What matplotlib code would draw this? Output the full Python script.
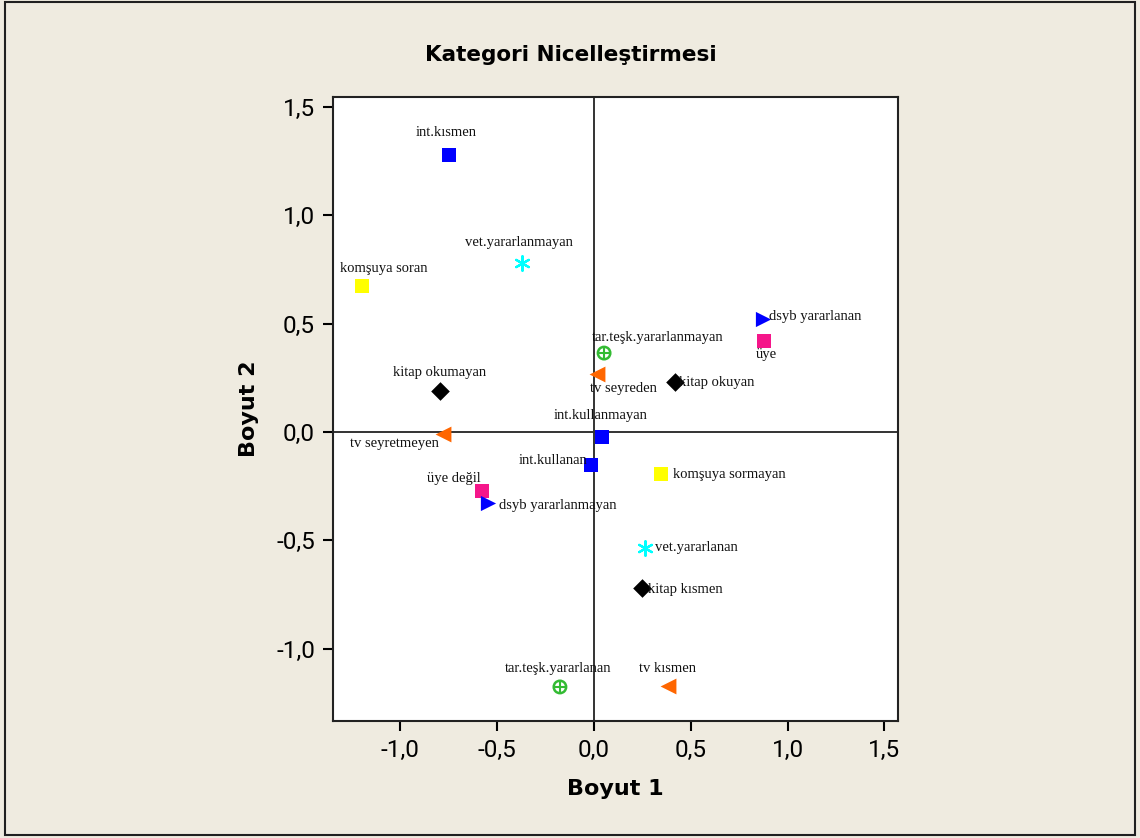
import matplotlib
matplotlib.use('Agg')
from matplotlib import pyplot as plt
from matplotlib.ticker import FuncFormatter

# category quantifications, one group per variable
int_labels = ['int.kısmen', 'int.kullanmayan', 'int.kullanan']
int_x = [-0.749, 0.041, -0.015]
int_y = [1.278, -0.023, -0.152]

vet_labels = ['vet.yararlanmayan', 'vet.yararlanan']
vet_x = [-0.372, 0.263]
vet_y = [0.780, -0.535]

kom_labels = ['komşuya soran', 'komşuya sormayan']
kom_x = [-1.198, 0.346]
kom_y = [0.673, -0.194]

dsyb_labels = ['dsyb yararlanan', 'dsyb yararlanmayan']
dsyb_x = [0.873, -0.548]
dsyb_y = [0.521, -0.327]

uye_labels = ['üye', 'üye değil']
uye_x = [0.878, -0.579]
uye_y = [0.420, -0.272]

tar_labels = ['tar.teşk.yararlanmayan', 'tar.teşk.yararlanan']
tar_x = [0.052, -0.176]
tar_y = [0.364, -1.176]

tv_labels = ['tv seyreden', 'tv seyretmeyen', 'tv kısmen']
tv_x = [0.015, -0.780, 0.382]
tv_y = [0.268, -0.009, -1.172]

kitap_labels = ['kitap okuyan', 'kitap okumayan', 'kitap kısmen']
kitap_x = [0.418, -0.795, 0.248]
kitap_y = [0.231, 0.189, -0.720]

#label placement (offset in pixels, horizontal alignment)
label_pos = {
    'int.kısmen': (-3, 22, 'center'),
    'int.kullanmayan': (-1, 21, 'center'),
    'int.kullanan': (-4, 4, 'right'),
    'vet.yararlanmayan': (-3, 20, 'center'),
    'vet.yararlanan': (10, 0, 'left'),
    'komşuya soran': (-22, 18, 'left'),
    'komşuya sormayan': (12, 0, 'left'),
    'dsyb yararlanan': (6, 3, 'left'),
    'dsyb yararlanmayan': (11, -3, 'left'),
    'üye': (2, -14, 'center'),
    'üye değil': (-28, 12, 'center'),
    'tar.teşk.yararlanmayan': (-12, 16, 'left'),
    'tar.teşk.yararlanan': (-2, 18, 'center'),
    'tv seyreden': (-7, -15, 'left'),
    'tv seyretmeyen': (-4, -10, 'right'),
    'tv kısmen': (0, 18, 'center'),
    'kitap okuyan': (4, -1, 'left'),
    'kitap okumayan': (-1, 19, 'center'),
    'kitap kısmen': (6, -1, 'left'),
}

fig = plt.figure(figsize=(11.4, 8.38), dpi=100, facecolor='#EFEBE0')
ax = fig.add_axes([333/1140, 1-721/838, (898-333)/1140, (721-97)/838])
ax.set_facecolor('white')

#frame around the whole figure
fig.patches.append(plt.Rectangle((0.004, 0.004), 0.992, 0.994, transform=fig.transFigure,
                                 fill=False, edgecolor='#202020', linewidth=1.5))

ax.axhline(0, color='#333333', linewidth=1.4, zorder=1)
ax.axvline(0, color='#333333', linewidth=1.4, zorder=1)

groups = [
    (int_labels, int_x, int_y, dict(marker='s', color='#0000FF', s=110)),
    (kom_labels, kom_x, kom_y, dict(marker='s', color='#FFFF00', s=110)),
    (uye_labels, uye_x, uye_y, dict(marker='s', color='#F5168A', s=110)),
    (dsyb_labels, dsyb_x, dsyb_y, dict(marker='>', color='#0000FF', s=120)),
    (tv_labels, tv_x, tv_y, dict(marker='<', color='#FF6600', s=130)),
    (kitap_labels, kitap_x, kitap_y, dict(marker='D', color='black', s=90)),
]

for labels, xs, ys, style in groups:
    ax.scatter(xs, ys, linewidths=0, zorder=3, **style)

#asterisk and circle-plus markers
ax.scatter(vet_x, vet_y, marker=(6, 2, 0), color='#00FFFF', s=110, linewidths=1.6, zorder=3)
ax.scatter(tar_x, tar_y, marker='o', facecolors='none', edgecolors='#33BB33', s=80,
           linewidths=1.8, zorder=3)
ax.scatter(tar_x, tar_y, marker='+', color='#33BB33', s=70, linewidths=1.5, zorder=3)

all_groups = [(int_labels, int_x, int_y), (vet_labels, vet_x, vet_y), (kom_labels, kom_x, kom_y),
              (dsyb_labels, dsyb_x, dsyb_y), (uye_labels, uye_x, uye_y), (tar_labels, tar_x, tar_y),
              (tv_labels, tv_x, tv_y), (kitap_labels, kitap_x, kitap_y)]
for labels, xs, ys in all_groups:
    for lab, x, y in zip(labels, xs, ys):
        dx, dy, ha = label_pos[lab]
        ax.annotate(lab, (x, y), xytext=(dx, dy), textcoords='offset pixels',
                    ha=ha, va='center', fontsize=10.5, family=['Liberation Serif', 'DejaVu Serif'],
                    color='#111111', zorder=4)

ax.set_xlim(-1.348, 1.57)
ax.set_ylim(-1.333, 1.545)
ax.set_xticks([-1.0, -0.5, 0.0, 0.5, 1.0, 1.5])
ax.set_yticks([-1.0, -0.5, 0.0, 0.5, 1.0, 1.5])
fmt = FuncFormatter(lambda v, p: ('%.1f' % v).replace('.', ','))
ax.xaxis.set_major_formatter(fmt)
ax.yaxis.set_major_formatter(fmt)
ax.tick_params(direction='out', length=7, width=1.5, labelsize=17.5, pad=6)
for lab in ax.get_xticklabels() + ax.get_yticklabels():
    lab.set_family(['Roboto', 'DejaVu Sans'])
for sp in ax.spines.values():
    sp.set_linewidth(1.5)
    sp.set_color('#222222')

ax.set_xlabel('Boyut 1', fontsize=16, fontweight='bold', labelpad=12)
ax.set_ylabel('Boyut 2', fontsize=16, fontweight='bold', labelpad=12)
fig.text(571/1140, 1-55/838, 'Kategori Nicelleştirmesi', ha='center', va='center',
         fontsize=15.5, fontweight='bold')

plt.savefig('out.png', dpi=100, facecolor=fig.get_facecolor())
plt.close()
